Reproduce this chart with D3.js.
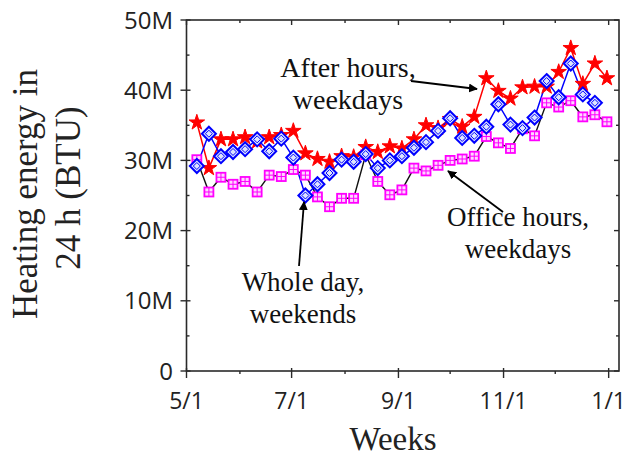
<!DOCTYPE html>
<html><head><meta charset="utf-8">
<script src="https://cdn.jsdelivr.net/npm/d3@7"></script>
<style>html,body{margin:0;padding:0;background:#fff;}svg{display:block;}</style>
</head><body>
<svg id="chart" width="629" height="459"></svg>
<script>
// ---- data ----
const weeks = ["2012-05-07","2012-05-14","2012-05-21","2012-05-28","2012-06-04","2012-06-11","2012-06-18","2012-06-25",
 "2012-07-02","2012-07-09","2012-07-16","2012-07-23","2012-07-30","2012-08-06","2012-08-13","2012-08-20","2012-08-27",
 "2012-09-03","2012-09-10","2012-09-17","2012-09-24","2012-10-01","2012-10-08","2012-10-15","2012-10-22","2012-10-29",
 "2012-11-05","2012-11-12","2012-11-19","2012-11-26","2012-12-03","2012-12-10","2012-12-17","2012-12-24","2012-12-31"];
const afterHours = [35.4,28.9,33.0,33.0,33.3,32.7,33.3,33.6,34.2,31.0,30.2,29.8,30.6,30.5,31.9,31.2,32.0,31.7,33.0,35.0,
 34.6,35.9,34.8,36.2,41.7,39.9,38.8,40.4,40.5,40.5,42.6,46.0,40.9,43.8,41.7];
const weekends = [29.2,33.8,30.6,31.2,31.6,33.0,31.3,33.1,30.4,25.0,26.6,28.2,30.1,29.8,30.9,28.9,30.0,30.6,31.8,32.6,
 34.2,36.0,33.2,33.5,34.8,38.0,35.1,34.6,36.1,41.3,39.0,43.8,39.4,38.2,null];
const officeHours = [30.1,25.5,27.6,26.6,27.0,25.5,27.9,27.7,28.7,27.9,24.8,23.4,24.6,24.6,30.8,27.0,25.1,25.8,28.9,28.5,
 29.3,30.0,30.2,30.6,33.4,32.5,31.7,34.5,33.5,38.2,37.6,38.5,36.2,36.5,35.5];
const yTicks = [0,10,20,30,40,50];
const yTickLabels = ["0","10M","20M","30M","40M","50M"];
const xTickDates = ["2012-05-01","2012-07-01","2012-09-01","2012-11-01","2013-01-01"];
const xTickLabels = ["5/1","7/1","9/1","11/1","1/1"];
const xMinorDates = ["2012-06-01","2012-08-01","2012-10-01","2012-12-01"];

const parse = d3.timeParse("%Y-%m-%d");
const svg = d3.select("#chart");
const L = 186.5, R = 619, T = 20, B = 371;
const x = d3.scaleTime().domain([parse("2012-05-01"), parse("2013-01-07")]).range([L, R]);
const y = d3.scaleLinear().domain([0, 50]).range([B, T]);
const ink = "#2a2a2a";

// frame
svg.append("rect").attr("x", L).attr("y", T).attr("width", R - L).attr("height", B - T)
  .attr("fill", "none").attr("stroke", ink).attr("stroke-width", 1.6);

// ticks
const yMinor = d3.range(5, 50, 10);
const g = svg.append("g").attr("stroke", ink).attr("stroke-width", 1.4);
yTicks.forEach(v => {
  g.append("line").attr("x1", L - 6).attr("x2", L + 4).attr("y1", y(v)).attr("y2", y(v));
  g.append("line").attr("x1", R - 5).attr("x2", R).attr("y1", y(v)).attr("y2", y(v));
});
yMinor.forEach(v => {
  g.append("line").attr("x1", L).attr("x2", L + 3).attr("y1", y(v)).attr("y2", y(v));
  g.append("line").attr("x1", R - 3).attr("x2", R).attr("y1", y(v)).attr("y2", y(v));
});
xTickDates.forEach(d => {
  const px = x(parse(d));
  g.append("line").attr("x1", px).attr("x2", px).attr("y1", B - 3).attr("y2", B + 7);
  g.append("line").attr("x1", px).attr("x2", px).attr("y1", T).attr("y2", T + 5);
});
xMinorDates.forEach(d => {
  const px = x(parse(d));
  g.append("line").attr("x1", px).attr("x2", px).attr("y1", B).attr("y2", B + 3);
  g.append("line").attr("x1", px).attr("x2", px).attr("y1", T).attr("y2", T + 3);
});

// tick labels
const sans = "'Open Sans', sans-serif";
svg.selectAll(".ylab").data(yTicks).enter().append("text")
  .attr("x", 173).attr("y", d => y(d)).attr("dy", "0.36em").attr("text-anchor", "end")
  .attr("font-family", sans).attr("font-size", 24).attr("fill", "#222")
  .text((d, i) => yTickLabels[i]);
svg.selectAll(".xlab").data(xTickDates).enter().append("text")
  .attr("x", d => x(parse(d))).attr("y", 409).attr("text-anchor", "middle")
  .attr("font-family", sans).attr("font-size", 23).attr("fill", "#222")
  .text((d, i) => xTickLabels[i]);

// axis titles
const serif = "'Liberation Serif', 'Times New Roman', serif";
svg.append("text").attr("x", 393).attr("y", 450).attr("text-anchor", "middle")
  .attr("font-family", serif).attr("font-size", 33).attr("fill", "#222").text("Weeks");
const yt = svg.append("text").attr("transform", "translate(0,194) rotate(-90)")
  .attr("text-anchor", "middle").attr("font-family", serif).attr("font-size", 35).attr("fill", "#222");
yt.append("tspan").attr("x", 0).attr("y", 37).text("Heating energy in");
yt.append("tspan").attr("x", 6).attr("y", 80).text("24 h (BTU)");

// lines
const pts = arr => arr.map((v, i) => ({d: parse(weeks[i]), v})).filter(p => p.v !== null);
const line = d3.line().x(p => x(p.d)).y(p => y(p.v));
svg.append("path").attr("d", line(pts(officeHours))).attr("fill", "none").attr("stroke", "#111").attr("stroke-width", 1.4);
svg.append("path").attr("d", line(pts(afterHours))).attr("fill", "none").attr("stroke", "#ff0000").attr("stroke-width", 1.5);
svg.append("path").attr("d", line(pts(weekends))).attr("fill", "none").attr("stroke", "#0000ff").attr("stroke-width", 1.5);

// markers
const star = d3.symbol().type(d3.symbolStar).size(75);
svg.selectAll(".star").data(pts(afterHours)).enter().append("path")
  .attr("d", star).attr("transform", p => `translate(${x(p.d)},${y(p.v)})`)
  .attr("fill", "#ff0000").attr("stroke", "#ff0000").attr("stroke-width", 1);

const sq = svg.selectAll(".sq").data(pts(officeHours)).enter().append("g")
  .attr("transform", p => `translate(${x(p.d)},${y(p.v)})`);
sq.append("rect").attr("x", -4.5).attr("y", -4.5).attr("width", 9).attr("height", 9)
  .attr("fill", "#ffd6ff").attr("stroke", "#ff00ff").attr("stroke-width", 1.8);
sq.append("path").attr("d", "M-4.5,0H4.5M0,-4.5V4.5").attr("stroke", "#ff00ff").attr("stroke-width", 1);

const dm = svg.selectAll(".dm").data(pts(weekends)).enter().append("g")
  .attr("transform", p => `translate(${x(p.d)},${y(p.v)})`);
dm.append("path").attr("d", "M0,-7L7,0L0,7L-7,0Z").attr("fill", "#dde4ff").attr("stroke", "#0000ff").attr("stroke-width", 2);
dm.append("path").attr("d", "M0,-3.5L3.5,0L0,3.5L-3.5,0Z").attr("fill", "none").attr("stroke", "#0000ff").attr("stroke-width", 1);

// annotations
const defs = svg.append("defs");
defs.append("marker").attr("id", "ah").attr("viewBox", "0 0 10 10").attr("refX", 9).attr("refY", 5)
  .attr("markerWidth", 9).attr("markerHeight", 9).attr("markerUnits", "userSpaceOnUse").attr("orient", "auto")
  .append("path").attr("d", "M0,0L10,5L0,10Z").attr("fill", "#000");
const notes = [
  {lines: ["After hours,", "weekdays"], cx: 348, y0: 77, fs: 28},
  {lines: ["Office hours,", "weekdays"], cx: 518, y0: 226, fs: 27},
  {lines: ["Whole day,", "weekends"], cx: 303, y0: 291, fs: 27}
];
notes.forEach(n => {
  const t = svg.append("text").attr("font-family", serif).attr("font-size", n.fs).attr("fill", "#111").attr("text-anchor", "middle");
  n.lines.forEach((s, i) => t.append("tspan").attr("x", n.cx).attr("y", n.y0 + i * 32).text(s));
});
const arrows = [
  {x1: 411, y1: 81, x2: 477, y2: 89},
  {x1: 503, y1: 212, x2: 448, y2: 171},
  {x1: 299, y1: 266, x2: 304, y2: 202}
];
arrows.forEach(a => svg.append("line").attr("x1", a.x1).attr("y1", a.y1).attr("x2", a.x2).attr("y2", a.y2)
  .attr("stroke", "#000").attr("stroke-width", 1.8).attr("marker-end", "url(#ah)"));
</script>
</body></html>
